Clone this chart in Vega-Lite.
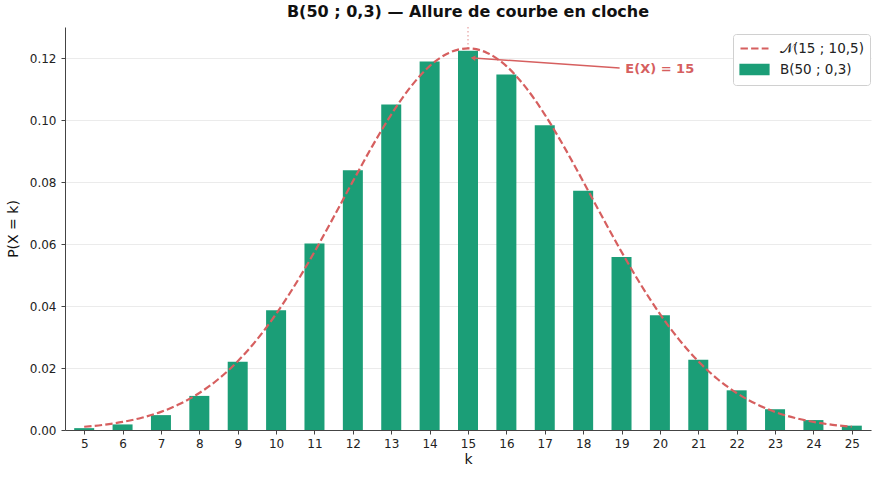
{
  "$schema": "https://vega.github.io/schema/vega-lite/v6.json",
  "width": 806,
  "height": 403,
  "autosize": {"type": "none"},
  "padding": {"left": 65, "top": 27, "right": 9, "bottom": 50},
  "background": "white",
  "view": {"stroke": null},
  "config": {
    "font": "DejaVu Sans",
    "axis": {"labelFont": "DejaVu Sans", "titleFont": "DejaVu Sans", "labelFontSize": 12, "titleFontSize": 14,
      "titleFontWeight": "normal", "labelColor": "#222", "titleColor": "#111", "domainColor": "#444",
      "tickColor": "#444", "tickSize": 4, "labelPadding": 4}
  },
  "title": {"text": "B(50 ; 0,3) — Allure de courbe en cloche", "fontSize": 16, "fontWeight": "bold",
    "font": "DejaVu Sans", "anchor": "middle", "offset": 6, "color": "#111"},
  "datasets": {
    "binom": [
      {"k": 5, "p": 0.0006, "serie": "B(50 ; 0,3)"},
      {"k": 6, "p": 0.0018, "serie": "B(50 ; 0,3)"},
      {"k": 7, "p": 0.0048, "serie": "B(50 ; 0,3)"},
      {"k": 8, "p": 0.0110, "serie": "B(50 ; 0,3)"},
      {"k": 9, "p": 0.0220, "serie": "B(50 ; 0,3)"},
      {"k": 10, "p": 0.0386, "serie": "B(50 ; 0,3)"},
      {"k": 11, "p": 0.0602, "serie": "B(50 ; 0,3)"},
      {"k": 12, "p": 0.0838, "serie": "B(50 ; 0,3)"},
      {"k": 13, "p": 0.1050, "serie": "B(50 ; 0,3)"},
      {"k": 14, "p": 0.1189, "serie": "B(50 ; 0,3)"},
      {"k": 15, "p": 0.1223, "serie": "B(50 ; 0,3)"},
      {"k": 16, "p": 0.1147, "serie": "B(50 ; 0,3)"},
      {"k": 17, "p": 0.0983, "serie": "B(50 ; 0,3)"},
      {"k": 18, "p": 0.0772, "serie": "B(50 ; 0,3)"},
      {"k": 19, "p": 0.0558, "serie": "B(50 ; 0,3)"},
      {"k": 20, "p": 0.0370, "serie": "B(50 ; 0,3)"},
      {"k": 21, "p": 0.0227, "serie": "B(50 ; 0,3)"},
      {"k": 22, "p": 0.0128, "serie": "B(50 ; 0,3)"},
      {"k": 23, "p": 0.0067, "serie": "B(50 ; 0,3)"},
      {"k": 24, "p": 0.0032, "serie": "B(50 ; 0,3)"},
      {"k": 25, "p": 0.0014, "serie": "B(50 ; 0,3)"}
    ],
    "normal": [
      {"x": 5, "f": 0.00105, "serie": "𝒩(15 ; 10,5)"},
      {"x": 5.5, "f": 0.00167, "serie": "𝒩(15 ; 10,5)"},
      {"x": 6, "f": 0.00260, "serie": "𝒩(15 ; 10,5)"},
      {"x": 6.5, "f": 0.00395, "serie": "𝒩(15 ; 10,5)"},
      {"x": 7, "f": 0.00584, "serie": "𝒩(15 ; 10,5)"},
      {"x": 7.5, "f": 0.00845, "serie": "𝒩(15 ; 10,5)"},
      {"x": 8, "f": 0.01194, "serie": "𝒩(15 ; 10,5)"},
      {"x": 8.5, "f": 0.01646, "serie": "𝒩(15 ; 10,5)"},
      {"x": 9, "f": 0.02217, "serie": "𝒩(15 ; 10,5)"},
      {"x": 9.5, "f": 0.02916, "serie": "𝒩(15 ; 10,5)"},
      {"x": 10, "f": 0.03744, "serie": "𝒩(15 ; 10,5)"},
      {"x": 10.5, "f": 0.04694, "serie": "𝒩(15 ; 10,5)"},
      {"x": 11, "f": 0.05747, "serie": "𝒩(15 ; 10,5)"},
      {"x": 11.5, "f": 0.06870, "serie": "𝒩(15 ; 10,5)"},
      {"x": 12, "f": 0.08020, "serie": "𝒩(15 ; 10,5)"},
      {"x": 12.5, "f": 0.09142, "serie": "𝒩(15 ; 10,5)"},
      {"x": 13, "f": 0.10176, "serie": "𝒩(15 ; 10,5)"},
      {"x": 13.5, "f": 0.11060, "serie": "𝒩(15 ; 10,5)"},
      {"x": 14, "f": 0.11739, "serie": "𝒩(15 ; 10,5)"},
      {"x": 14.5, "f": 0.12165, "serie": "𝒩(15 ; 10,5)"},
      {"x": 15, "f": 0.12311, "serie": "𝒩(15 ; 10,5)"},
      {"x": 15.5, "f": 0.12165, "serie": "𝒩(15 ; 10,5)"},
      {"x": 16, "f": 0.11739, "serie": "𝒩(15 ; 10,5)"},
      {"x": 16.5, "f": 0.11060, "serie": "𝒩(15 ; 10,5)"},
      {"x": 17, "f": 0.10176, "serie": "𝒩(15 ; 10,5)"},
      {"x": 17.5, "f": 0.09142, "serie": "𝒩(15 ; 10,5)"},
      {"x": 18, "f": 0.08020, "serie": "𝒩(15 ; 10,5)"},
      {"x": 18.5, "f": 0.06870, "serie": "𝒩(15 ; 10,5)"},
      {"x": 19, "f": 0.05747, "serie": "𝒩(15 ; 10,5)"},
      {"x": 19.5, "f": 0.04694, "serie": "𝒩(15 ; 10,5)"},
      {"x": 20, "f": 0.03744, "serie": "𝒩(15 ; 10,5)"},
      {"x": 20.5, "f": 0.02916, "serie": "𝒩(15 ; 10,5)"},
      {"x": 21, "f": 0.02217, "serie": "𝒩(15 ; 10,5)"},
      {"x": 21.5, "f": 0.01646, "serie": "𝒩(15 ; 10,5)"},
      {"x": 22, "f": 0.01194, "serie": "𝒩(15 ; 10,5)"},
      {"x": 22.5, "f": 0.00845, "serie": "𝒩(15 ; 10,5)"},
      {"x": 23, "f": 0.00584, "serie": "𝒩(15 ; 10,5)"},
      {"x": 23.5, "f": 0.00395, "serie": "𝒩(15 ; 10,5)"},
      {"x": 24, "f": 0.00260, "serie": "𝒩(15 ; 10,5)"},
      {"x": 24.5, "f": 0.00167, "serie": "𝒩(15 ; 10,5)"},
      {"x": 25, "f": 0.00105, "serie": "𝒩(15 ; 10,5)"}
    ],
    "esperance": [
      {"x": 15, "x0": 18.95, "y0": 0.1168, "xt": 15.13, "yt": 0.1200, "xl": 19.1, "yl": 0.1166, "label": "E(X) = 15"}
    ]
  },
  "layer": [
    {
      "data": {"name": "esperance"},
      "mark": {"type": "rule", "color": "#d65f5f", "opacity": 0.6, "strokeDash": [1.5, 2.5], "strokeWidth": 1.2},
      "encoding": {
        "x": {"field": "x", "type": "quantitative"}
      }
    },
    {
      "data": {"name": "binom"},
      "mark": {"type": "bar", "size": 20},
      "encoding": {
        "x": {"field": "k", "type": "quantitative", "title": "k",
          "scale": {"domain": [4.5, 25.5], "nice": false, "zero": false, "padding": 0},
          "axis": {"values": [5, 6, 7, 8, 9, 10, 11, 12, 13, 14, 15, 16, 17, 18, 19, 20, 21, 22, 23, 24, 25],
            "format": "d", "grid": false, "titlePadding": 3}},
        "y": {"field": "p", "type": "quantitative", "title": "P(X = k)",
          "scale": {"domain": [0, 0.13], "nice": false},
          "axis": {"values": [0, 0.02, 0.04, 0.06, 0.08, 0.1, 0.12], "format": ".2f", "labelPadding": 5,
            "grid": true, "gridColor": "#e6e6e6", "gridWidth": 0.8, "titlePadding": 9}},
        "color": {"field": "serie", "type": "nominal", "title": null,
          "scale": {"domain": ["𝒩(15 ; 10,5)", "B(50 ; 0,3)"], "range": ["#d65f5f", "#1b9e77"]},
          "legend": {"orient": "none", "legendX": 668, "legendY": 7, "padding": 6,
            "fillColor": "white", "strokeColor": "#d0d0d0", "cornerRadius": 3,
            "labelFont": "DejaVu Sans", "labelFontSize": 13.5, "labelColor": "#222",
            "rowPadding": 5, "symbolSize": 196, "labelOffset": 24,
            "encode": {"symbols": {"update": {
              "shape": {"signal": "datum.value === 'B(50 ; 0,3)' ? 'M-1,-0.65H3V0.65H-1Z' : 'M-1,0H3'"},
              "fill": {"signal": "datum.value === 'B(50 ; 0,3)' ? '#1b9e77' : 'transparent'"},
              "stroke": {"signal": "datum.value === 'B(50 ; 0,3)' ? 'transparent' : '#d65f5f'"},
              "strokeWidth": {"value": 2.2},
              "strokeDash": {"signal": "datum.value === 'B(50 ; 0,3)' ? [] : [7.4, 3.2]"},
              "opacity": {"value": 1}
            }}}}}
      }
    },
    {
      "data": {"name": "normal"},
      "mark": {"type": "line", "strokeWidth": 2.2, "strokeDash": [7.4, 3.2], "interpolate": "monotone"},
      "encoding": {
        "x": {"field": "x", "type": "quantitative"},
        "y": {"field": "f", "type": "quantitative"},
        "color": {"field": "serie", "type": "nominal"}
      }
    },
    {
      "data": {"name": "esperance"},
      "mark": {"type": "rule", "color": "#d65f5f", "strokeWidth": 1.5},
      "encoding": {
        "x": {"field": "x0", "type": "quantitative"},
        "y": {"field": "y0", "type": "quantitative"},
        "x2": {"field": "xt"},
        "y2": {"field": "yt"}
      }
    },
    {
      "data": {"name": "esperance"},
      "mark": {"type": "point", "shape": "triangle-left", "filled": true, "size": 30, "angle": 4, "color": "#d65f5f", "opacity": 1},
      "encoding": {
        "x": {"field": "xt", "type": "quantitative"},
        "y": {"field": "yt", "type": "quantitative"}
      }
    },
    {
      "data": {"name": "esperance"},
      "mark": {"type": "text", "align": "left", "baseline": "middle", "font": "DejaVu Sans", "fontSize": 13, "fontWeight": "bold", "color": "#d65f5f"},
      "encoding": {
        "x": {"field": "xl", "type": "quantitative"},
        "y": {"field": "yl", "type": "quantitative"},
        "text": {"field": "label"}
      }
    }
  ]
}
